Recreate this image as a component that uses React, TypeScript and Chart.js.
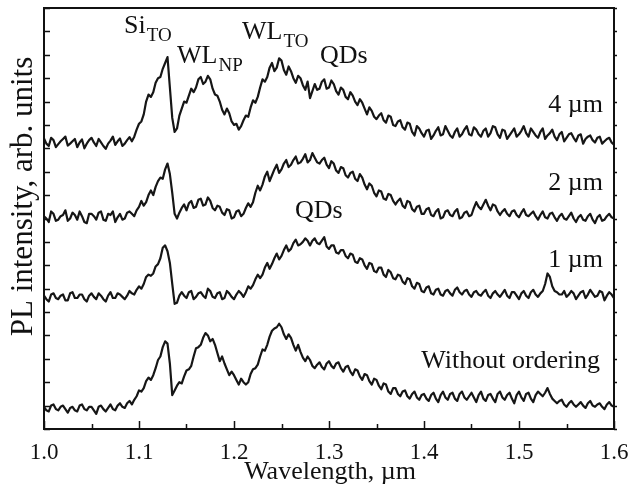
import React, { useEffect, useRef } from "react";
import { Chart, registerables } from "chart.js";

Chart.register(...registerables);

const FONT = '"Liberation Serif", "Times New Roman", serif';

// Wavelength grid (µm): main samples and the samples half-way between them
const wavelength = [
  1.000, 1.005, 1.010, 1.015, 1.020, 1.025, 1.030, 1.035, 1.040, 1.045,
  1.050, 1.055, 1.060, 1.065, 1.070, 1.075, 1.080, 1.085, 1.090, 1.095,
  1.100, 1.105, 1.110, 1.115, 1.120, 1.125, 1.130, 1.135, 1.140, 1.145,
  1.150, 1.155, 1.160, 1.165, 1.170, 1.175, 1.180, 1.185, 1.190, 1.195,
  1.200, 1.205, 1.210, 1.215, 1.220, 1.225, 1.230, 1.235, 1.240, 1.245,
  1.250, 1.255, 1.260, 1.265, 1.270, 1.275, 1.280, 1.285, 1.290, 1.295,
  1.300, 1.305, 1.310, 1.315, 1.320, 1.325, 1.330, 1.335, 1.340, 1.345,
  1.350, 1.355, 1.360, 1.365, 1.370, 1.375, 1.380, 1.385, 1.390, 1.395,
  1.400, 1.405, 1.410, 1.415, 1.420, 1.425, 1.430, 1.435, 1.440, 1.445,
  1.450, 1.455, 1.460, 1.465, 1.470, 1.475, 1.480, 1.485, 1.490, 1.495,
  1.500, 1.505, 1.510, 1.515, 1.520, 1.525, 1.530, 1.535, 1.540, 1.545,
  1.550, 1.555, 1.560, 1.565, 1.570, 1.575, 1.580, 1.585, 1.590, 1.595,
  1.600,
];
const wavelengthMid = [
  1.0025, 1.0075, 1.0125, 1.0175, 1.0225, 1.0275, 1.0325, 1.0375, 1.0425, 1.0475,
  1.0525, 1.0575, 1.0625, 1.0675, 1.0725, 1.0775, 1.0825, 1.0875, 1.0925, 1.0975,
  1.1025, 1.1075, 1.1125, 1.1175, 1.1225, 1.1275, 1.1325, 1.1375, 1.1425, 1.1475,
  1.1525, 1.1575, 1.1625, 1.1675, 1.1725, 1.1775, 1.1825, 1.1875, 1.1925, 1.1975,
  1.2025, 1.2075, 1.2125, 1.2175, 1.2225, 1.2275, 1.2325, 1.2375, 1.2425, 1.2475,
  1.2525, 1.2575, 1.2625, 1.2675, 1.2725, 1.2775, 1.2825, 1.2875, 1.2925, 1.2975,
  1.3025, 1.3075, 1.3125, 1.3175, 1.3225, 1.3275, 1.3325, 1.3375, 1.3425, 1.3475,
  1.3525, 1.3575, 1.3625, 1.3675, 1.3725, 1.3775, 1.3825, 1.3875, 1.3925, 1.3975,
  1.4025, 1.4075, 1.4125, 1.4175, 1.4225, 1.4275, 1.4325, 1.4375, 1.4425, 1.4475,
  1.4525, 1.4575, 1.4625, 1.4675, 1.4725, 1.4775, 1.4825, 1.4875, 1.4925, 1.4975,
  1.5025, 1.5075, 1.5125, 1.5175, 1.5225, 1.5275, 1.5325, 1.5375, 1.5425, 1.5475,
  1.5525, 1.5575, 1.5625, 1.5675, 1.5725, 1.5775, 1.5825, 1.5875, 1.5925, 1.5975,
];

// PL intensity (arb. units, curves offset vertically)
const pl4um = [
  12.42, 12.1, 12.35, 12.18, 12.4, 12.12, 12.3, 12.05, 12.38, 12.2,
  12.45, 12.1, 12.25, 11.98, 12.33, 12.15, 12.42, 12.2, 12.48, 12.5,
  13.05, 13.45, 14.3, 14.4, 15.0, 15.4, 15.9, 13.3, 12.85, 13.7,
  13.95, 14.55, 14.6, 15.05, 14.85, 14.95, 14.3, 14.0, 13.45, 13.5,
  13.0, 12.8, 13.2, 13.35, 14.05, 14.2, 14.95, 15.05, 15.65, 15.45,
  15.75, 15.15, 15.3, 14.8, 15.0, 14.5, 14.15, 14.75, 14.55, 14.95,
  14.6, 14.75, 14.3, 14.5, 14.1, 14.25, 13.85, 13.95, 13.45, 13.6,
  13.25, 13.5, 13.1, 13.35, 12.95, 13.2, 12.8, 13.05, 12.55, 12.85,
  12.5, 12.8, 12.55, 12.9, 12.6, 12.75, 12.45, 12.85, 12.6, 12.95,
  12.55, 12.8, 12.5, 12.85, 12.65, 12.9, 12.45, 12.75, 12.55, 12.85,
  12.6, 12.95, 12.5, 12.7, 12.45, 12.85, 12.55, 12.8, 12.35, 12.7,
  12.45, 12.65, 12.3, 12.6, 12.4, 12.55, 12.25, 12.5, 12.3, 12.45,
  12.15,
];
const pl4umMid = [
  12.2, 12.45, 12.05, 12.3, 12.5, 12.2, 12.4, 12.25, 12.0, 12.35,
  12.25, 12.4, 12.1, 12.2, 12.5, 12.3, 12.1, 12.35, 12.3, 12.8,
  13.15, 14.0, 14.2, 14.8, 15.05, 15.65, 14.6, 12.7, 13.4, 14.0,
  14.25, 14.4, 14.95, 14.75, 15.1, 14.55, 14.25, 13.65, 13.7, 13.15,
  13.05, 12.95, 13.4, 13.75, 13.95, 14.6, 14.85, 15.45, 15.3, 15.85,
  15.35, 15.5, 15.0, 15.1, 14.7, 14.85, 14.45, 14.5, 14.85, 14.55,
  14.9, 14.45, 14.6, 14.2, 14.4, 14.0, 14.1, 13.7, 13.75, 13.35,
  13.4, 13.2, 13.4, 13.0, 13.15, 12.9, 13.1, 12.7, 12.95, 12.65,
  12.75, 12.4, 12.75, 12.55, 12.95, 12.55, 12.7, 12.5, 12.8, 12.6,
  12.9, 12.6, 12.75, 12.5, 12.95, 12.6, 12.8, 12.4, 12.7, 12.5,
  12.75, 12.65, 12.85, 12.55, 12.7, 12.4, 12.65, 12.5, 12.6, 12.3,
  12.6, 12.45, 12.55, 12.2, 12.5, 12.35, 12.45, 12.2, 12.4, 12.25,
];

const pl2um = [
  9.1, 8.85, 9.2, 8.95, 9.15, 8.9, 9.25, 8.95, 9.1, 8.8,
  9.2, 8.95, 9.3, 8.9, 9.15, 8.85, 9.2, 9.0, 9.3, 9.1,
  9.5, 9.55, 10.0, 10.0, 10.6, 10.7, 11.35, 10.1, 9.0, 9.45,
  9.35, 9.75, 9.5, 9.85, 9.6, 9.75, 9.35, 9.5, 9.15, 9.35,
  9.05, 9.35, 9.2, 9.65, 9.7, 10.4, 10.45, 11.0, 10.85, 11.3,
  11.1, 11.5, 11.3, 11.65, 11.4, 11.75, 11.5, 11.6, 11.35, 11.6,
  11.15, 11.35, 10.95, 11.15, 10.75, 11.0, 10.6, 10.75, 10.25, 10.4,
  9.95, 10.15, 9.8, 10.0, 9.6, 9.85, 9.45, 9.7, 9.3, 9.55,
  9.2, 9.45, 9.1, 9.4, 9.05, 9.35, 9.1, 9.4, 9.05, 9.3,
  9.15, 9.7, 9.4, 9.8, 9.35, 9.55, 9.15, 9.4, 9.1, 9.35,
  9.05, 9.4, 9.1, 9.3, 8.95, 9.3, 9.0, 9.25, 8.9, 9.2,
  8.95, 9.25, 8.85, 9.15, 8.9, 9.2, 8.8, 9.15, 8.95, 9.2,
  9.0,
];
const pl2umMid = [
  9.0, 9.3, 8.9, 9.1, 9.35, 9.0, 9.15, 9.3, 8.85, 9.2,
  9.1, 9.25, 8.95, 9.2, 9.3, 9.05, 8.95, 9.25, 9.2, 9.35,
  9.75, 9.7, 10.2, 10.35, 10.75, 11.1, 10.9, 9.2, 9.25, 9.6,
  9.65, 9.45, 9.8, 9.55, 9.9, 9.45, 9.55, 9.25, 9.4, 9.0,
  9.3, 9.1, 9.45, 9.5, 10.1, 10.2, 10.8, 10.6, 11.1, 10.95,
  11.35, 11.2, 11.5, 11.35, 11.55, 11.4, 11.8, 11.4, 11.5, 11.3,
  11.45, 11.05, 11.2, 10.85, 10.95, 10.7, 10.9, 10.45, 10.5, 10.1,
  10.2, 9.85, 10.05, 9.75, 9.75, 9.55, 9.75, 9.4, 9.5, 9.2,
  9.4, 9.15, 9.3, 9.0, 9.3, 9.15, 9.3, 9.0, 9.25, 9.1,
  9.45, 9.5, 9.6, 9.55, 9.6, 9.3, 9.3, 9.2, 9.3, 9.15,
  9.25, 9.15, 9.2, 9.1, 9.15, 9.05, 9.2, 9.05, 9.1, 9.0,
  9.1, 9.0, 9.05, 8.95, 9.1, 8.95, 9.05, 8.9, 9.1, 9.05,
];

const pl1um = [
  5.7, 5.45, 5.8, 5.55, 5.75, 5.5, 5.85, 5.6, 5.75, 5.45,
  5.8, 5.55, 5.7, 5.45, 5.85, 5.6, 5.75, 5.55, 5.9, 5.75,
  6.1, 6.2, 6.6, 6.65, 7.05, 7.75, 7.6, 6.2, 5.4, 5.85,
  5.6, 5.9, 5.65, 5.85, 5.6, 5.9, 5.6, 5.85, 5.6, 5.8,
  5.55, 5.9, 5.65, 6.1, 6.15, 6.6, 6.6, 7.1, 7.05, 7.5,
  7.4, 7.85, 7.7, 8.1, 7.9, 8.15, 7.85, 8.15, 7.9, 8.2,
  7.7, 7.85, 7.5, 7.65, 7.3, 7.45, 7.1, 7.25, 6.85, 7.05,
  6.7, 6.9, 6.5, 6.7, 6.4, 6.55, 6.2, 6.4, 6.0, 6.2,
  5.85, 6.1, 5.75, 6.0, 5.7, 5.95, 5.7, 6.05, 5.75, 5.95,
  5.65, 5.9, 5.7, 5.95, 5.6, 5.9, 5.65, 5.95, 5.6, 5.85,
  5.55, 5.9, 5.6, 5.95, 5.65, 5.9, 6.65, 6.1, 5.85, 5.75,
  5.65, 5.9, 5.55, 5.85, 5.6, 5.95, 5.65, 5.9, 5.5, 5.85,
  5.6,
];
const pl1umMid = [
  5.55, 5.75, 5.6, 5.7, 5.5, 5.8, 5.6, 5.75, 5.55, 5.7,
  5.65, 5.8, 5.55, 5.7, 5.6, 5.8, 5.65, 5.7, 5.8, 5.95,
  6.0, 6.5, 6.55, 6.95, 7.3, 7.85, 7.1, 5.35, 5.7, 5.7,
  5.85, 5.55, 5.8, 5.7, 6.0, 5.65, 5.8, 5.55, 5.9, 5.65,
  5.75, 5.8, 5.85, 6.0, 6.4, 6.45, 6.9, 6.85, 7.3, 7.25,
  7.65, 7.6, 7.95, 7.85, 8.0, 8.05, 8.05, 7.95, 8.05, 7.8,
  7.85, 7.55, 7.65, 7.4, 7.5, 7.15, 7.3, 7.0, 7.1, 6.75,
  6.9, 6.6, 6.8, 6.45, 6.6, 6.3, 6.45, 6.1, 6.25, 5.9,
  6.05, 5.8, 5.95, 5.75, 5.9, 5.8, 5.95, 5.85, 5.9, 5.75,
  5.85, 5.75, 5.85, 5.7, 5.8, 5.75, 5.8, 5.7, 5.85, 5.7,
  5.8, 5.7, 5.85, 5.75, 5.8, 6.2, 6.5, 5.9, 5.75, 5.9,
  5.75, 5.8, 5.7, 5.9, 5.75, 5.8, 5.7, 5.85, 5.7, 5.75,
];

const plNoOrdering = [
  0.95, 0.75, 1.05, 0.8, 1.0, 0.7, 0.95, 0.75, 1.05, 0.8,
  0.95, 0.65, 1.0, 0.75, 1.05, 0.8, 1.1, 0.9, 1.2, 1.25,
  1.65, 1.75, 2.2, 2.3, 2.95, 3.5, 3.65, 1.45, 1.85, 1.95,
  2.5, 2.7, 3.45, 3.6, 4.1, 3.75, 3.6, 2.9, 2.8, 2.3,
  2.3, 1.9, 2.0, 2.0, 2.55, 2.75, 3.4, 3.6, 4.2, 4.35,
  4.35, 3.85, 3.9, 3.35, 3.3, 2.9, 2.95, 2.6, 2.85, 2.55,
  2.9, 2.6, 2.85, 2.45, 2.7, 2.3, 2.5, 2.1, 2.3, 1.9,
  2.1, 1.7, 1.9, 1.5, 1.75, 1.4, 1.65, 1.3, 1.6, 1.25,
  1.5, 1.2, 1.55, 1.15, 1.6, 1.25, 1.55, 1.2, 1.6, 1.25,
  1.55, 1.15, 1.6, 1.2, 1.5, 1.15, 1.6, 1.25, 1.55, 1.1,
  1.6, 1.2, 1.55, 1.15, 1.6, 1.4, 1.75, 1.3, 1.1, 1.25,
  0.95, 1.2, 0.95, 1.15, 0.9, 1.2, 0.95, 1.1, 0.85, 1.15,
  0.95,
];
const plNoOrderingMid = [
  0.8, 1.0, 0.85, 0.95, 0.85, 0.9, 0.8, 1.0, 0.85, 0.95,
  0.8, 0.95, 0.85, 0.9, 0.85, 1.0, 0.95, 1.1, 1.05, 1.4,
  1.6, 2.05, 2.1, 2.6, 3.1, 3.75, 2.8, 1.65, 2.0, 2.25,
  2.55, 3.1, 3.5, 3.9, 4.0, 3.85, 3.25, 3.1, 2.55, 2.45,
  2.1, 2.15, 1.9, 2.35, 2.6, 3.1, 3.35, 3.95, 4.3, 4.5,
  4.05, 4.05, 3.6, 3.6, 3.05, 3.1, 2.7, 2.75, 2.65, 2.8,
  2.7, 2.8, 2.6, 2.65, 2.45, 2.55, 2.25, 2.35, 2.05, 2.15,
  1.85, 1.95, 1.6, 1.75, 1.5, 1.6, 1.4, 1.5, 1.35, 1.45,
  1.3, 1.45, 1.3, 1.45, 1.35, 1.5, 1.3, 1.5, 1.35, 1.4,
  1.35, 1.45, 1.3, 1.45, 1.3, 1.5, 1.35, 1.45, 1.3, 1.45,
  1.35, 1.5, 1.3, 1.45, 1.5, 1.55, 1.5, 1.2, 1.2, 1.05,
  1.1, 1.05, 1.05, 1.0, 1.1, 1.0, 1.05, 0.95, 1.05, 1.0,
];

// Axis settings
const xMin = 1.0;
const xMax = 1.6;
const xMajorStep = 0.1;
const xMinorStep = 0.05;
const yMin = 0;
const yMax = 18;
const yTickStep = 1;

const xTitle = "Wavelength, \u00b5m";
const yTitle = "PL intensity, arb. units";

// Text labels placed in data coordinates
const labelTexts = ["Si", "WL", "WL", "QDs", "4 \u00b5m", "2 \u00b5m", "QDs", "1 \u00b5m", "Without ordering"];
const labelSubs = ["TO", "NP", "TO", "", "", "", "", "", ""];
const labelX = [1.0842, 1.14, 1.2084, 1.2905, 1.5884, 1.5884, 1.2642, 1.5884, 1.5853];
const labelY = [16.92, 15.64, 16.67, 15.64, 13.55, 10.21, 9.02, 6.92, 2.61];
const labelAlign = ["left", "left", "left", "left", "right", "right", "left", "right", "right"];

function mergeSeries(main: number[], mid: number[]) {
  const pts: { x: number; y: number }[] = [];
  for (let i = 0; i < main.length; i++) {
    pts.push({ x: wavelength[i], y: main[i] });
    if (i < mid.length) pts.push({ x: wavelengthMid[i], y: mid[i] });
  }
  return pts;
}

export default function App() {
  const canvasRef = useRef<HTMLCanvasElement | null>(null);

  useEffect(() => {
    if (!canvasRef.current) return;

    const decorPlugin = {
      id: "decor",
      afterDraw(chart: any) {
        const { ctx, chartArea, scales } = chart;
        const { left, right, top, bottom } = chartArea;
        const xs = scales.x;
        const ys = scales.y;
        ctx.save();
        ctx.strokeStyle = "#111";
        ctx.fillStyle = "#111";
        // tick marks (inward)
        ctx.lineWidth = 1.5;
        ctx.beginPath();
        const nX = Math.round((xMax - xMin) / xMinorStep);
        const majorEvery = Math.round(xMajorStep / xMinorStep);
        for (let k = 0; k <= nX; k++) {
          const v = xMin + k * xMinorStep;
          const px = Math.round(xs.getPixelForValue(v)) + 0.5;
          const len = k % majorEvery === 0 ? 8 : 5;
          ctx.moveTo(px, bottom);
          ctx.lineTo(px, bottom - len);
        }
        const nY = Math.round((yMax - yMin) / yTickStep);
        for (let k = 0; k <= nY; k++) {
          const py = Math.round(ys.getPixelForValue(yMin + k * yTickStep)) + 0.5;
          ctx.moveTo(left, py);
          ctx.lineTo(left + 6, py);
          ctx.moveTo(right, py);
          ctx.lineTo(right + 3, py);
        }
        ctx.stroke();
        // frame
        ctx.lineWidth = 2;
        ctx.strokeRect(left, top, right - left, bottom - top);

        // x tick labels from the scale's own ticks
        ctx.textAlign = "center";
        ctx.textBaseline = "alphabetic";
        ctx.font = `23px ${FONT}`;
        for (const t of xs.ticks) {
          ctx.fillText(Number(t.value).toFixed(1), xs.getPixelForValue(t.value), bottom + 30);
        }

        // axis titles
        ctx.font = `26px ${FONT}`;
        ctx.fillText(xTitle, (left + right) / 2 + 1, bottom + 50);
        ctx.save();
        ctx.translate(32, (top + bottom) / 2 - 22);
        ctx.rotate(-Math.PI / 2);
        ctx.font = `31px ${FONT}`;
        ctx.fillText(yTitle, 0, 0);
        ctx.restore();

        // annotations
        ctx.textAlign = "left";
        for (let i = 0; i < labelTexts.length; i++) {
          const px = xs.getPixelForValue(labelX[i]);
          const py = ys.getPixelForValue(labelY[i]);
          ctx.font = `26px ${FONT}`;
          const mainW = ctx.measureText(labelTexts[i]).width;
          ctx.font = `19px ${FONT}`;
          const subW = labelSubs[i] ? ctx.measureText(labelSubs[i]).width + 1 : 0;
          const start = labelAlign[i] === "right" ? px - mainW - subW : px;
          ctx.font = `26px ${FONT}`;
          ctx.fillText(labelTexts[i], start, py);
          if (labelSubs[i]) {
            ctx.font = `19px ${FONT}`;
            ctx.fillText(labelSubs[i], start + mainW + 1, py + 8);
          }
        }
        ctx.restore();
      },
    };

    const lineStyle = {
      borderColor: "#161616",
      borderWidth: 2.2,
      pointRadius: 0,
      tension: 0,
      borderJoinStyle: "round" as const,
      fill: false,
    };

    const chart = new Chart(canvasRef.current, {
      type: "line",
      data: {
        datasets: [
          { label: "4 µm", data: mergeSeries(pl4um, pl4umMid), ...lineStyle },
          { label: "2 µm", data: mergeSeries(pl2um, pl2umMid), ...lineStyle },
          { label: "1 µm", data: mergeSeries(pl1um, pl1umMid), ...lineStyle },
          { label: "Without ordering", data: mergeSeries(plNoOrdering, plNoOrderingMid), ...lineStyle },
        ],
      },
      options: {
        responsive: true,
        maintainAspectRatio: false,
        animation: false,
        layout: { padding: { top: 8, right: 18, left: 0, bottom: 0 } },
        plugins: { legend: { display: false }, tooltip: { enabled: false } },
        scales: {
          x: {
            type: "linear",
            min: xMin,
            max: xMax,
            grid: { display: false },
            border: { display: false },
            ticks: {
              stepSize: xMajorStep,
              display: false,
              autoSkip: false,
            },
            afterFit: (s: any) => {
              s.height = 68;
            },
          },
          y: {
            type: "linear",
            min: yMin,
            max: yMax,
            grid: { display: false },
            border: { display: false },
            ticks: { display: false, stepSize: yTickStep },
            afterFit: (s: any) => {
              s.width = 44;
            },
          },
        },
      },
      plugins: [decorPlugin],
    });
    return () => chart.destroy();
  }, []);

  return (
    <div style={{ position: "fixed", left: 0, top: 0, width: 632, height: 497, background: "#fff" }}>
      <canvas ref={canvasRef} />
    </div>
  );
}
